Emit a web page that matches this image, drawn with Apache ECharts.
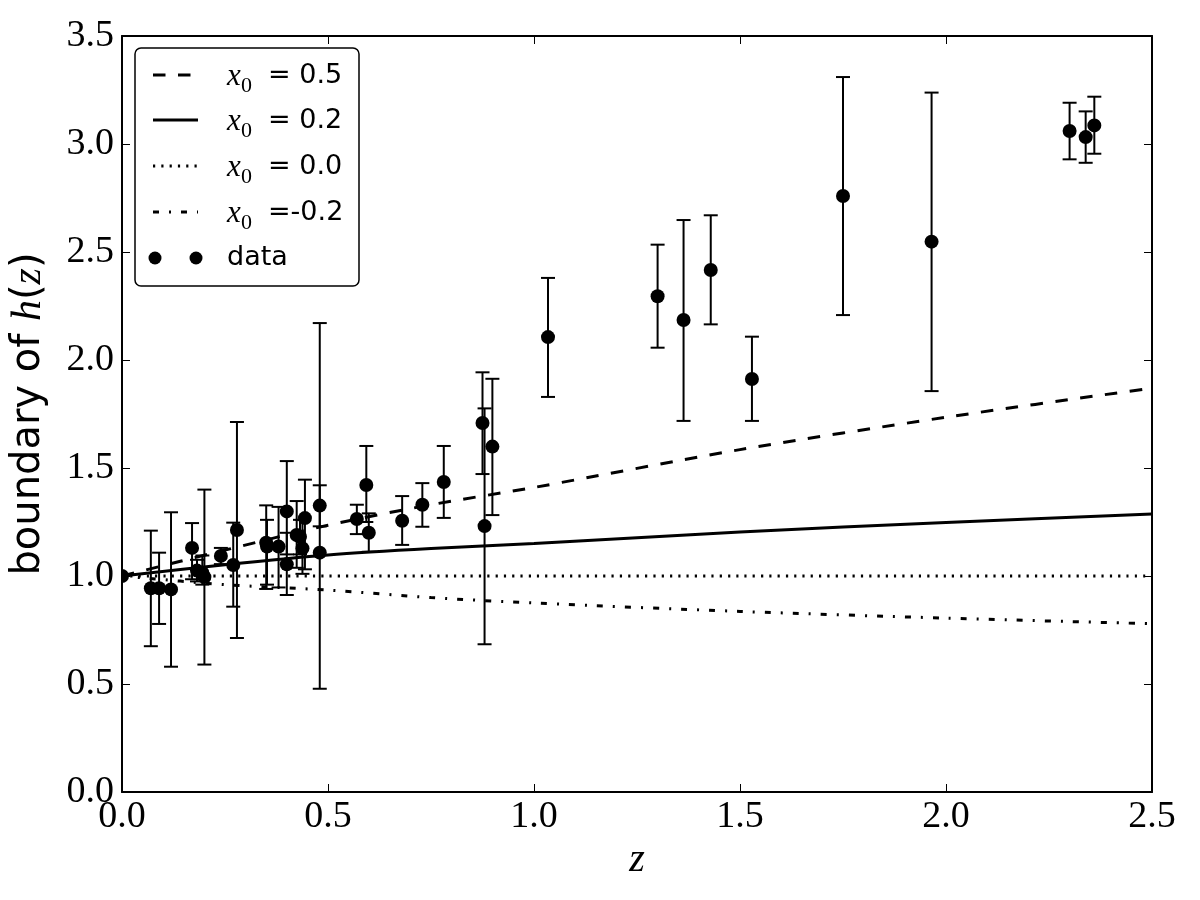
<!DOCTYPE html>
<html>
<head>
<meta charset="utf-8">
<title>boundary of h(z)</title>
<script src="https://cdn.jsdelivr.net/npm/echarts@6/dist/echarts.min.js"></script>
<style>
  html, body { margin: 0; padding: 0; background: #fff; }
  #chart { width: 1200px; height: 900px; }
</style>
</head>
<body>
<div id="chart"></div>
<script>
// 观测数据 (z, h, 下限, 上限)
const zData = [0.0, 0.070, 0.090, 0.119, 0.170, 0.182, 0.195, 0.200, 0.240, 0.270,
  0.279, 0.350, 0.352, 0.380, 0.400, 0.400, 0.424, 0.432, 0.438, 0.444,
  0.480, 0.480, 0.570, 0.593, 0.599, 0.680, 0.729, 0.781, 0.875, 0.880,
  0.899, 1.034, 1.300, 1.363, 1.429, 1.529, 1.750, 1.965, 2.300, 2.339, 2.360]
const hData = [1.0, 0.943, 0.943, 0.938, 1.130, 1.025, 1.015, 0.995, 1.093, 1.051,
  1.213, 1.154, 1.136, 1.136, 1.299, 1.054, 1.190, 1.182, 1.128, 1.268,
  1.326, 1.108, 1.264, 1.421, 1.200, 1.256, 1.330, 1.435, 1.708, 1.231,
  1.599, 2.106, 2.295, 2.185, 2.417, 1.912, 2.759, 2.548, 3.060, 3.032, 3.086]
const hLow = [1.0, 0.675, 0.778, 0.580, 0.985, 0.975, 0.960, 0.590, 1.055, 0.858,
  0.713, 0.940, 0.960, 0.947, 1.100, 0.912, 1.038, 1.100, 1.010, 1.031,
  1.230, 0.478, 1.194, 1.250, 1.112, 1.144, 1.228, 1.269, 1.472, 0.684,
  1.282, 1.829, 2.057, 1.718, 2.165, 1.718, 2.208, 1.856, 2.929, 2.913, 2.955]
const hHigh = [1.0, 1.210, 1.108, 1.295, 1.245, 1.075, 1.095, 1.400, 1.130, 1.247,
  1.713, 1.327, 1.260, 1.320, 1.532, 1.200, 1.347, 1.260, 1.260, 1.446,
  1.420, 2.171, 1.330, 1.602, 1.290, 1.370, 1.430, 1.602, 1.943, 1.776,
  1.913, 2.380, 2.534, 2.648, 2.670, 2.108, 3.310, 3.238, 3.191, 3.151, 3.219]

// 模型曲线
const zLine = [0, 0.25, 0.5, 0.75, 1.0, 1.5, 2.0, 2.5]
const hX05 = [1.0, 1.12, 1.235, 1.33, 1.41, 1.585, 1.735, 1.87]
const hX02 = [1.0, 1.052, 1.097, 1.127, 1.15, 1.204, 1.248, 1.287]
const hX00 = [1.0, 1.0, 1.0, 1.0, 1.0, 1.0, 1.0, 1.0]
const hXm02 = [1.0, 0.96, 0.935, 0.9, 0.875, 0.836, 0.805, 0.779]

const legendNames = ['= 0.5', '= 0.2', '= 0.0', '=-0.2']
const xTicks = ['0.0', '0.5', '1.0', '1.5', '2.0', '2.5']

const dashStyles = [[12.5, 12.5], 'solid', [2.2, 6.1], [6, 10, 2, 10]]
const curves = [hX05, hX02, hX00, hXm02]

const chart = echarts.init(document.getElementById('chart'))

const serif = 'Liberation Serif'
const sans = 'DejaVu Sans'

const points = zData.map((z, i) => [z, hData[i], hLow[i], hHigh[i]])

function axisCommon(extra) {
  return Object.assign({
    type: 'value',
    axisLine: { show: true, onZero: false, lineStyle: { color: '#000', width: 2 } },
    axisTick: { show: true, inside: true, length: 8, lineStyle: { color: '#000', width: 1 } },
    splitLine: { show: false },
  }, extra)
}

// 图例 (手工绘制)
const legendGraphic = [
  {
    type: 'rect',
    shape: { x: 135, y: 48, width: 224, height: 238, r: 6 },
    style: { fill: '#fff', stroke: '#000', lineWidth: 1.5 },
    z: 100,
  },
]
const rowY = [75, 120, 166, 212, 258]
curves.forEach((c, i) => {
  legendGraphic.push({
    type: 'line',
    shape: { x1: 153, y1: rowY[i], x2: 198, y2: rowY[i] },
    style: {
      stroke: '#000',
      lineWidth: 3,
      lineDash: dashStyles[i] === 'solid' ? null : dashStyles[i],
    },
    z: 101,
  })
  legendGraphic.push({
    type: 'text', x: 227, y: rowY[i] + 2,
    style: { text: 'x', fontFamily: serif, fontStyle: 'italic', fontSize: 31, fill: '#000', verticalAlign: 'middle' },
    z: 101,
  })
  legendGraphic.push({
    type: 'text', x: 241, y: rowY[i] + 11,
    style: { text: '0', fontFamily: serif, fontSize: 22, fill: '#000', verticalAlign: 'middle' },
    z: 101,
  })
  legendGraphic.push({
    type: 'text', x: 268, y: rowY[i] + 1,
    style: { text: legendNames[i], fontFamily: sans, fontSize: 27, fill: '#000', verticalAlign: 'middle' },
    z: 101,
  })
})
;[155, 196].forEach((cx) => {
  legendGraphic.push({
    type: 'circle',
    shape: { cx: cx, cy: rowY[4], r: 6.5 },
    style: { fill: '#000' },
    z: 101,
  })
})
legendGraphic.push({
  type: 'text',
  x: 227,
  y: rowY[4],
  style: { text: 'data', fontFamily: sans, fontSize: 27, fill: '#000', verticalAlign: 'middle' },
  z: 101,
})

const option = {
  animation: false,
  backgroundColor: '#fff',
  grid: { left: 120, top: 36, right: 48, bottom: 108, containLabel: false },
  xAxis: [
    axisCommon({
      min: 0, max: 2.5, interval: 0.5,
      name: 'z',
      nameLocation: 'middle',
      nameGap: 44,
      nameTextStyle: { fontFamily: serif, fontStyle: 'italic', fontSize: 40, color: '#000' },
      axisLabel: {
        color: '#000', fontFamily: serif, fontSize: 38, margin: 6,
        formatter: (v) => xTicks[Math.round(v / 0.5)],
      },
    }),
    axisCommon({
      position: 'top', min: 0, max: 2.5, interval: 0.5,
      axisLabel: { show: false },
    }),
  ],
  yAxis: [
    axisCommon({
      min: 0, max: 3.5, interval: 0.5,
      name: 'boundary of {i|h}({i|z})',
      nameLocation: 'middle',
      nameGap: 72,
      nameRotate: 90,
      nameTextStyle: {
        fontFamily: sans, fontSize: 40, color: '#000',
        rich: {
          i: { fontFamily: serif, fontStyle: 'italic', fontSize: 42, color: '#000' },
        },
      },
      axisLabel: {
        color: '#000', fontFamily: serif, fontSize: 38, margin: 8,
        formatter: (v) => v.toFixed(1),
      },
    }),
    axisCommon({
      position: 'right', min: 0, max: 3.5, interval: 0.5,
      axisLabel: { show: false },
    }),
  ],
  graphic: legendGraphic,
  series: [
    ...curves.map((c, i) => ({
      type: 'line',
      name: 'x0 ' + legendNames[i],
      data: zLine.map((z, j) => [z, c[j]]),
      smooth: 0.3,
      showSymbol: false,
      clip: true,
      lineStyle: { color: '#000', width: 3, type: dashStyles[i] },
      z: 2,
    })),
    {
      // 误差棒
      type: 'custom',
      name: 'errorbar',
      clip: true,
      z: 3,
      data: points,
      encode: { x: 0, y: [1, 2, 3] },
      renderItem(params, api) {
        const x = api.value(0)
        const lo = api.value(2)
        const hi = api.value(3)
        if (lo === hi) return
        const top = api.coord([x, hi])
        const bot = api.coord([x, lo])
        const style = { stroke: '#000', lineWidth: 2 }
        return {
          type: 'group',
          children: [
            { type: 'line', shape: { x1: top[0], y1: top[1], x2: bot[0], y2: bot[1] }, style },
            { type: 'line', shape: { x1: top[0] - 7, y1: top[1], x2: top[0] + 7, y2: top[1] }, style },
            { type: 'line', shape: { x1: bot[0] - 7, y1: bot[1], x2: bot[0] + 7, y2: bot[1] }, style },
          ],
        }
      },
    },
    {
      // 数据点
      type: 'custom',
      name: 'data',
      clip: true,
      z: 4,
      data: points,
      encode: { x: 0, y: 1 },
      renderItem(params, api) {
        const p = api.coord([api.value(0), api.value(1)])
        return {
          type: 'circle',
          shape: { cx: p[0], cy: p[1], r: 7 },
          style: { fill: '#000' },
        }
      },
    },
  ],
}

chart.setOption(option)
</script>
</body>
</html>
